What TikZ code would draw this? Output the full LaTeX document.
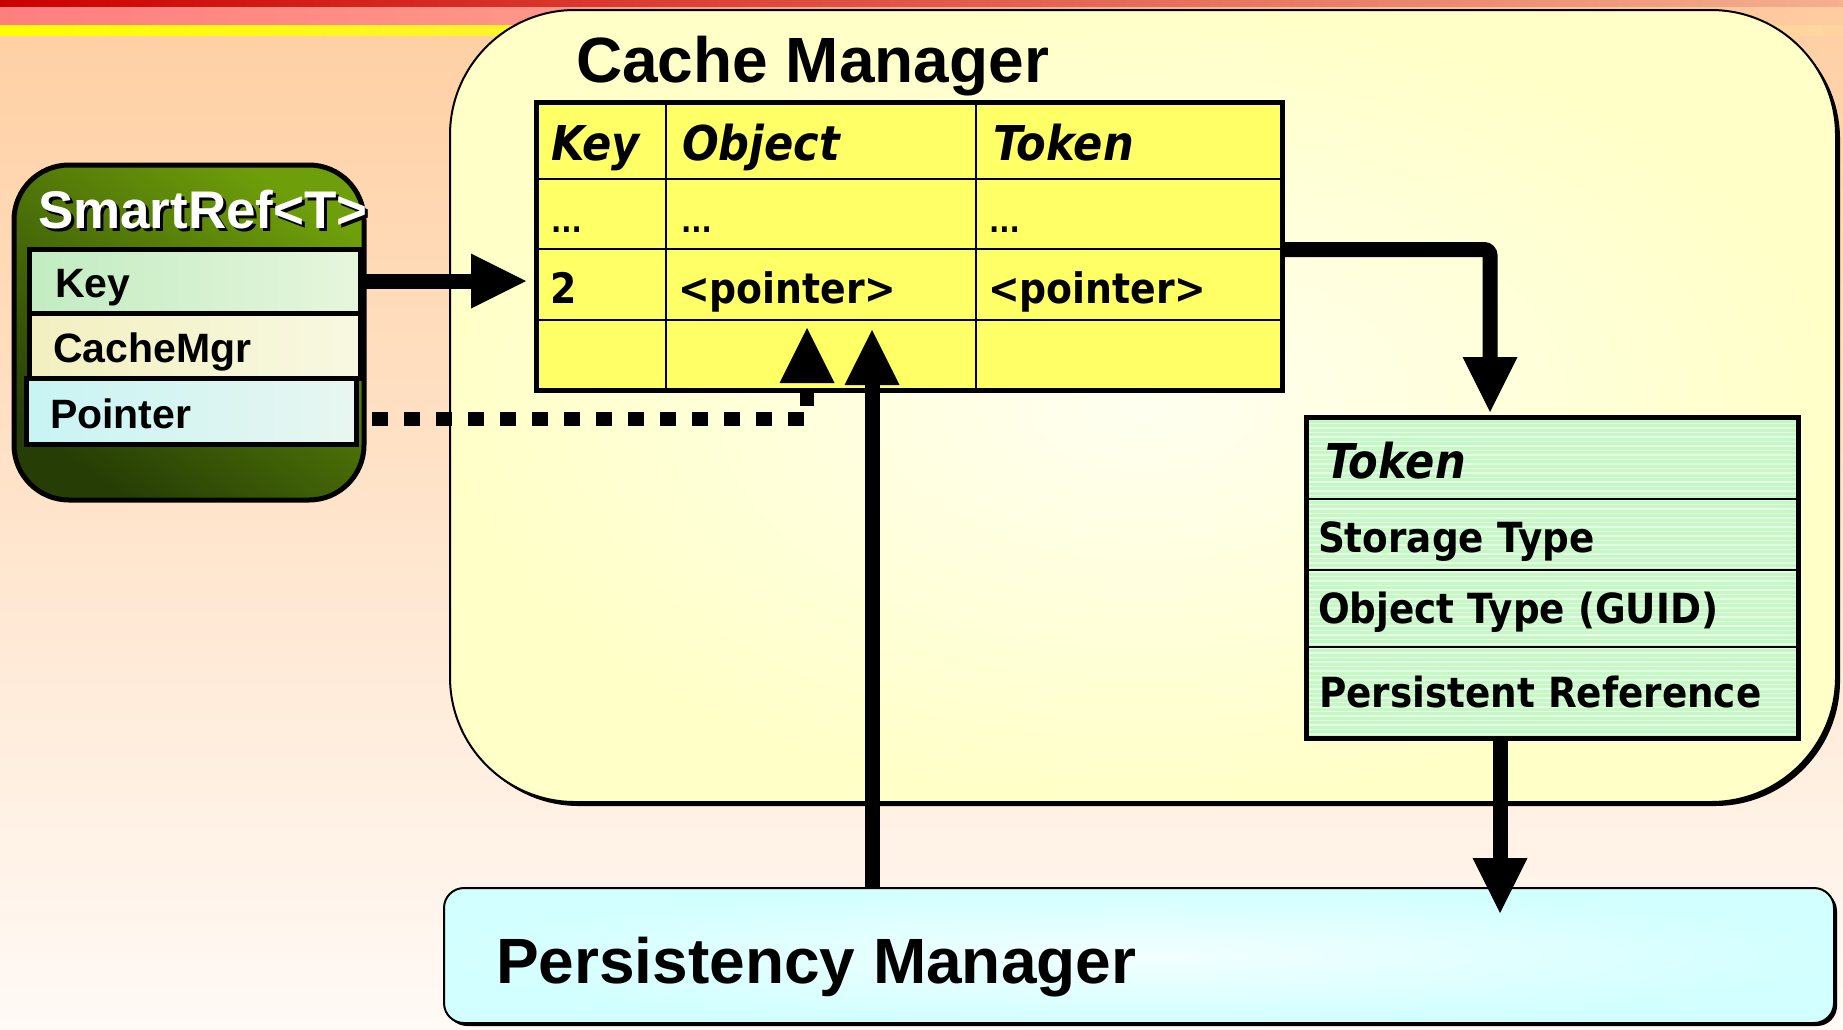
\documentclass[tikz,border=0pt]{standalone}
\usepackage{fontspec}
\setmainfont{Liberation Sans}
\newfontfamily\tah{DejaVu Sans}[FakeStretch=0.9]
\usetikzlibrary{arrows.meta}
\newcommand\fsz[1]{\fontsize{#1pt}{#1pt}\selectfont}
\definecolor{bgtop}{HTML}{FFD0A4}
\definecolor{bgbot}{HTML}{FFFAF6}
\definecolor{redL}{HTML}{CC0000}
\definecolor{redR}{HTML}{F4B090}
\definecolor{pinkL}{HTML}{FF7F7F}
\definecolor{pinkR}{HTML}{FFCCA0}
\definecolor{yelL}{HTML}{FFFF00}
\definecolor{yelR}{HTML}{FFD4A2}
\definecolor{cmfill}{HTML}{FFFFC8}
\definecolor{cminner}{HTML}{FFFFF0}
\definecolor{tblfill}{HTML}{FFFF66}
\definecolor{tokfill}{HTML}{C6F8C6}
\definecolor{pmfill}{HTML}{D2FFFF}
\definecolor{pminner}{HTML}{F2FFFF}
\definecolor{grnT}{HTML}{6E9E0A}
\definecolor{grnB}{HTML}{263E05}
\definecolor{keyL}{HTML}{C2ECC2}
\definecolor{keyR}{HTML}{E6F6DC}
\definecolor{cacL}{HTML}{F2F0C0}
\definecolor{cacR}{HTML}{F8F8E2}
\definecolor{ptrL}{HTML}{C8F4F4}
\definecolor{ptrR}{HTML}{E8F6F0}
\begin{document}
\begin{tikzpicture}[x=1pt,y=-1pt,
  every node/.style={outer sep=0pt},
  arr/.style={line width=15pt,-{Triangle[length=55pt,width=55pt,line width=0pt]}},
  shadowed/.style={preaction={fill=black,transform canvas={shift={(#1pt,-#1pt)}}}},
  shadowed/.default=4,
  field/.style={draw,line width=5pt,anchor=north west,inner sep=0pt},
  lbl/.style={anchor=base west,inner sep=0pt,font=\bfseries\fsz{41}},
  hdr/.style={anchor=base west,inner sep=0pt,font=\tah\bfseries\itshape\fsz{48}},
  cell/.style={anchor=base west,inner sep=0pt,font=\tah\bfseries\fsz{42}},
  dots/.style={anchor=base west,inner sep=0pt,font=\tah\bfseries\fsz{30}},
  tokt/.style={anchor=base west,inner sep=0pt,font=\tah\bfseries\fsz{41.5}},
  grid/.style={line width=2.5pt}]
\useasboundingbox (0,0) rectangle (1843,1029);
% background
\shade[top color=bgtop, bottom color=bgbot] (0,35) rectangle (1843,1029);
\shade[left color=redL, right color=redR] (0,0) rectangle (1843,7.5);
\shade[left color=pinkL, right color=pinkR] (0,7.5) rectangle (1843,25);
\shade[left color=yelL, right color=yelR] (0,25) rectangle (1843,35.5);
% cache manager
\node[shadowed=4, draw, line width=2pt, rounded corners=125pt, inner color=cminner, outer color=cmfill,
      minimum width=1386pt, minimum height=792pt, anchor=north west, inner sep=0pt] (cm) at (450,10) {};
\node[anchor=base west, inner sep=0pt, font=\bfseries\fsz{64}] (cmt) at (576,82) {Cache Manager};
% table
\node[draw, line width=5pt, fill=tblfill, minimum width=746pt, minimum height=288pt, anchor=north west, inner sep=0pt] (tbl) at (536,102) {};
\draw[grid] (666,102) -- (666,390);
\draw[grid] (976,102) -- (976,390);
\draw[grid] (536,179) -- (1282,179);
\draw[grid] (536,249) -- (1282,249);
\draw[grid] (536,320) -- (1282,320);
\node[hdr] (hk) at (551,160) {Key};
\node[hdr] (ho) at (682,160) {Object};
\node[hdr] (ht) at (993,160) {Token};
\node[dots] (d1) at (551,232) {...};
\node[dots] (d2) at (681,232) {...};
\node[dots] (d3) at (989,232) {...};
\node[cell] (c2) at (550,303) {2};
\node[cell] (cp1) at (678,303) {<pointer>};
\node[cell] (cp2) at (988,303) {<pointer>};
% token box
\fill[tokfill] (1306,417) rectangle (1798,738);
\begin{scope}
\clip (1306,417) rectangle (1798,738);
\foreach \yy in {419,423.5,...,738} \draw[white!55!tokfill, line width=1.2pt] (1306,\yy) -- (1798,\yy);
\end{scope}
\node[draw, line width=5pt, minimum width=492pt, minimum height=321pt, anchor=north west, inner sep=0pt] (tok) at (1306,417) {};
\draw[grid] (1306,499) -- (1798,499);
\draw[grid] (1306,570) -- (1798,570);
\draw[grid] (1306,647) -- (1798,647);
\node[hdr] (tt) at (1325,478) {Token};
\node[tokt] (ts) at (1318,552) {Storage Type};
\node[tokt] (to) at (1318,623) {Object Type (GUID)};
\node[tokt] (tp) at (1319,707) {Persistent Reference};
% smartref
\node[draw, line width=5pt, rounded corners=55pt, top color=grnT, bottom color=grnB, shading angle=-35,
      minimum width=350pt, minimum height=335pt, anchor=north west, inner sep=0pt] (sr) at (14,165) {};
\node[anchor=base west, inner sep=0pt, font=\bfseries\fsz{53}, text=black] (srs) at (41,231) {SmartRef<T>};
\node[anchor=base west, inner sep=0pt, font=\bfseries\fsz{53}, text=white] (srt) at (38,228) {SmartRef<T>};
\node[field, left color=keyL, right color=keyR, minimum width=331pt, minimum height=64pt] (fkey) at (29,249) {};
\node[field, left color=cacL, right color=cacR, minimum width=331pt, minimum height=65pt] (fcache) at (29,313) {};
\node[field, left color=ptrL, right color=ptrR, minimum width=330pt, minimum height=66pt] (fptr) at (26,378) {};
\node[lbl] (lk) at (55,297) {Key};
\node[lbl] (lc) at (53,362) {CacheMgr};
\node[lbl] (lp) at (50,428) {Pointer};
% persistency manager
\node[shadowed=3, draw, line width=2pt, rounded corners=20pt, inner color=pminner, outer color=pmfill,
      minimum width=1390pt, minimum height=135pt, anchor=north west, inner sep=0pt] (pm) at (444,888) {};
\node[anchor=base west, inner sep=0pt, font=\bfseries\fsz{64}] (pmt) at (496,983) {Persistency Manager};
% connectors
\coordinate (a1end) at (526,281);
\coordinate (a2row) at (1282,249.5);
\coordinate (a2end) at (1490,412);
\coordinate (a3end) at (1500,913);
\coordinate (a4end) at (872,330);
\coordinate (a5turn) at (807,419);
\coordinate (a5end) at (807,328);
\draw[arr] (fkey.east) -- (a1end);
\draw[arr, rounded corners=6pt] (tbl.east |- a2row) -| (a2end);
\draw[arr] (tok.south -| a3end) -- (a3end);
\draw[arr] (pm.north -| a4end) -- (a4end);
\draw[arr, line width=14pt, dash pattern=on 16pt off 16pt, dash phase=16pt] (fptr.east |- a5turn) -- (a5turn) -- (a5end);
\end{tikzpicture}
\end{document}
